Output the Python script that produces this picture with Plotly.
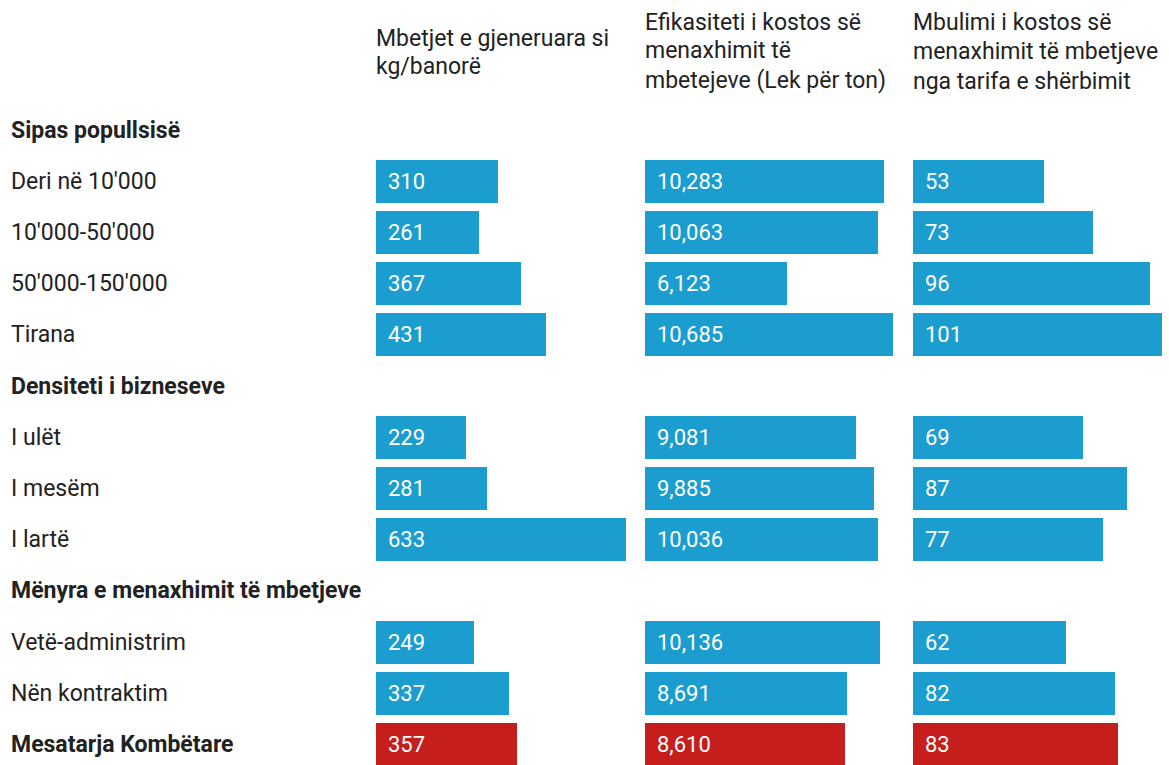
import plotly.graph_objects as go

# ---- data ----
row_labels = ["Sipas popullsisë", "Deri në 10'000", "10'000-50'000", "50'000-150'000", "Tirana",
              "Densiteti i bizneseve", "I ulët", "I mesëm", "I lartë",
              "Mënyra e menaxhimit të mbetjeve", "Vetë-administrim", "Nën kontraktim",
              "Mesatarja Kombëtare"]
bold_rows = [True, False, False, False, False, True, False, False, False, True, False, False, True]
waste_kg = [None, 310, 261, 367, 431, None, 229, 281, 633, None, 249, 337, 357]
cost_eff = [None, 10283, 10063, 6123, 10685, None, 9081, 9885, 10036, None, 10136, 8691, 8610]
cost_cov = [None, 53, 73, 96, 101, None, 69, 87, 77, None, 62, 82, 83]
col_headers = [
    ["Mbetjet e gjeneruara si", "kg/banorë"],
    ["Efikasiteti i kostos së", "menaxhimit të", "mbetejeve (Lek për ton)"],
    ["Mbulimi i kostos së", "menaxhimit të mbetjeve", "nga tarifa e shërbimit"],
]

W, H = 1169, 765
BLUE = "#1b9dcf"
RED = "#c61d1d"
FONT = "Roboto"
TXT = "#222222"
FS = 23
FS_VAL = 22

n = len(row_labels)
ys = list(range(n))
colors = [RED if i == n - 1 else BLUE for i in range(n)]

# pixel layout helpers
row0_px, row_step = 130.0, 51.2
y_top = -row0_px / row_step
y_bot = (H - row0_px) / row_step

cols = [
    dict(data=waste_kg, x0=376, x1=631, maxv=255 / 0.395, fmt="{:,.0f}"),
    dict(data=cost_eff, x0=645, x1=900, maxv=255 / 0.0232, fmt="{:,.0f}"),
    dict(data=cost_cov, x0=913, x1=1168, maxv=255 / 2.465, fmt="{:,.0f}"),
]

fig = go.Figure()
annotations = []
for k, c in enumerate(cols):
    ax = "x" if k == 0 else f"x{k+1}"
    fig.add_trace(go.Bar(
        x=c["data"], y=ys, orientation="h", width=0.84,
        marker=dict(color=colors, line=dict(width=0)),
        xaxis=ax, yaxis="y", hoverinfo="skip", showlegend=False,
    ))
    for i, v in enumerate(c["data"]):
        if v is None:
            continue
        annotations.append(dict(
            x=0, y=i, xref=ax, yref="y", xanchor="left", yanchor="middle",
            xshift=10, text=c["fmt"].format(v), showarrow=False,
            font=dict(family=FONT, size=FS_VAL, color="white"),
        ))

# row labels
for i, lab in enumerate(row_labels):
    annotations.append(dict(
        x=9 / W, y=i, xref="paper", yref="y", xanchor="left", yanchor="middle",
        text=f"<b>{lab}</b>" if bold_rows[i] else lab, showarrow=False,
        font=dict(family=FONT, size=FS, color=TXT),
    ))

# column headers (one annotation per line)
header_line_px = [[38, 66], [22, 51, 81], [22, 52, 82]]
for k, lines in enumerate(col_headers):
    for j, line in enumerate(lines):
        annotations.append(dict(
            x=(cols[k]["x0"] - 2) / W, y=1 - header_line_px[k][j] / H, xref="paper", yref="paper",
            xanchor="left", yanchor="middle", text=line, showarrow=False,
            font=dict(family=FONT, size=FS, color=TXT),
        ))

axis_common = dict(showgrid=False, zeroline=False, showticklabels=False, showline=False, ticks="")
fig.update_layout(
    width=W, height=H,
    margin=dict(l=0, r=0, t=0, b=0),
    paper_bgcolor="white", plot_bgcolor="white",
    font=dict(family=FONT),
    xaxis=dict(domain=[cols[0]["x0"] / W, cols[0]["x1"] / W], range=[0, cols[0]["maxv"]], **axis_common),
    xaxis2=dict(domain=[cols[1]["x0"] / W, cols[1]["x1"] / W], range=[0, cols[1]["maxv"]], anchor="y", **axis_common),
    xaxis3=dict(domain=[cols[2]["x0"] / W, cols[2]["x1"] / W], range=[0, cols[2]["maxv"]], anchor="y", **axis_common),
    yaxis=dict(range=[y_bot, y_top], **axis_common),
    annotations=annotations,
    bargap=0,
)

fig.write_html("out.html", config={"displayModeBar": False},
               post_script="document.body.style.margin='0';document.body.style.overflow='hidden';")
